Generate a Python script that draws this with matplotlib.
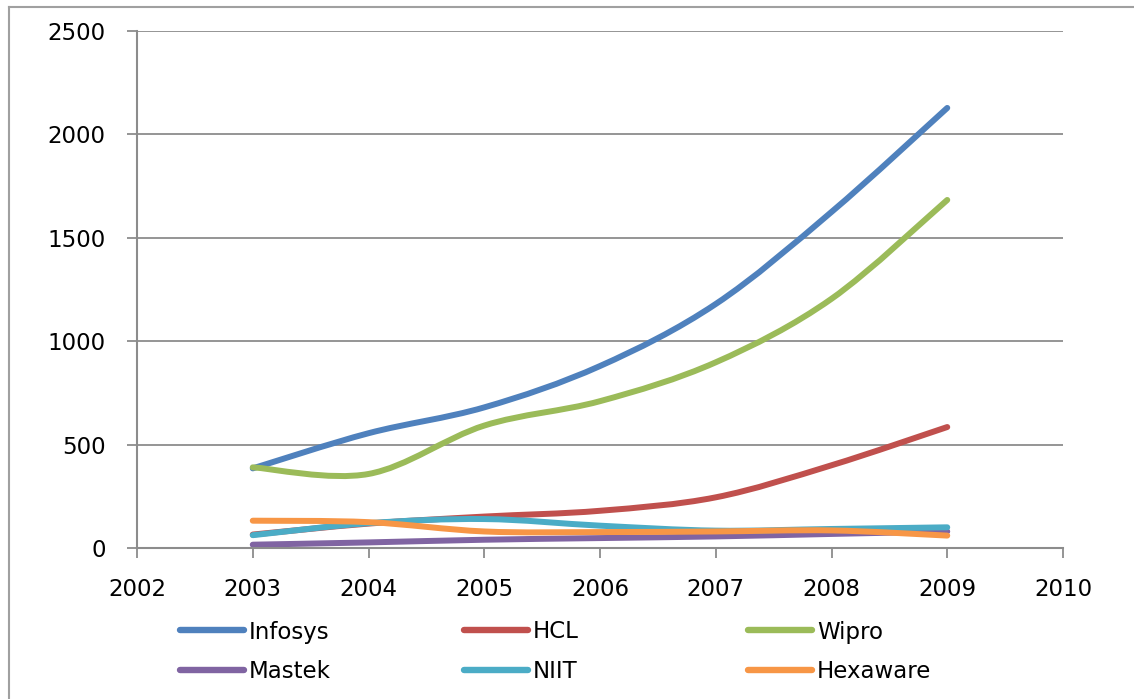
import numpy as np
import matplotlib
matplotlib.use("Agg")
import matplotlib.pyplot as plt
from matplotlib.path import Path
from matplotlib.patches import PathPatch
from matplotlib.lines import Line2D

# data
years = [2003, 2004, 2005, 2006, 2007, 2008, 2009]
infosys = [385, 555, 680, 880, 1180, 1625, 2128]
hcl = [65, 118, 152, 180, 245, 400, 585]
wipro = [390, 358, 592, 710, 898, 1205, 1683]
mastek = [16, 27, 40, 48, 56, 68, 80]
niit = [62, 120, 140, 108, 84, 92, 100]
hexaware = [132, 125, 80, 77, 80, 85, 60]

names = ['Infosys', 'HCL', 'Wipro', 'Mastek', 'NIIT', 'Hexaware']
series = [infosys, hcl, wipro, mastek, niit, hexaware]
colors = ['#4F81BD', '#C0504D', '#9BBB59', '#8064A2', '#4BACC6', '#F79646']

plt.rcParams['font.family'] = 'DejaVu Sans'
fig = plt.figure(figsize=(11.34, 6.99), dpi=100)
ax = fig.add_axes([137/1134, 1-548/699, (1063-137)/1134, (548-31)/699])


def smooth_path(x, y):
    # excel-style smoothed line: cubic bezier, catmull-rom control points
    pts = np.column_stack([x, y]).astype(float)
    n = len(pts)
    verts = [pts[0]]
    codes = [Path.MOVETO]
    for i in range(n-1):
        p0 = pts[max(i-1, 0)]
        p1 = pts[i]
        p2 = pts[i+1]
        p3 = pts[min(i+2, n-1)]
        c1 = p1 + (p2 - p0)/6.0
        c2 = p2 - (p3 - p1)/6.0
        verts += [c1, c2, p2]
        codes += [Path.CURVE4]*3
    return Path(verts, codes)


for name, vals, c in zip(names, series, colors):
    patch = PathPatch(smooth_path(years, vals), facecolor='none', edgecolor=c,
                      lw=4.3, capstyle='round', joinstyle='round')
    ax.add_patch(patch)

ax.set_xlim(2002, 2010)
ax.set_ylim(0, 2500)
ax.set_xticks(range(2002, 2011))
ax.set_yticks(range(0, 2501, 500))
ax.yaxis.grid(True, color='#8C8C8C', lw=1.3)
ax.set_axisbelow(True)
for s in ['top', 'right']:
    ax.spines[s].set_visible(False)
for s in ['left', 'bottom']:
    ax.spines[s].set_color('#8C8C8C')
    ax.spines[s].set_linewidth(1.5)
ax.tick_params(axis='y', length=7.5, width=1.3, color='#8C8C8C', pad=15, labelsize=16.5)
ax.tick_params(axis='x', length=7.5, width=1.3, color='#8C8C8C', pad=14, labelsize=16.5)

# legend, 3 columns x 2 rows
for i, (name, c) in enumerate(zip(names, colors)):
    col, row = i % 3, i // 3
    x0 = (180 + col*284)/1134
    y0 = 1 - (632 + row*40)/699
    h = Line2D([], [], color=c, lw=4.6, solid_capstyle='round')
    leg = fig.legend([h], [name], loc='center left', bbox_to_anchor=(x0, y0),
                     frameon=False, handlelength=2.8, handletextpad=0.2,
                     borderpad=0, borderaxespad=0, fontsize=16.5)

# outer chart border (partly cropped)
fig.add_artist(Line2D([9/1134, 1], [1-7/699, 1-7/699], color='#A0A0A0', lw=1.5))
fig.add_artist(Line2D([9/1134, 9/1134], [0, 1-7/699], color='#A0A0A0', lw=1.5))

fig.savefig('out.png', dpi=100)
